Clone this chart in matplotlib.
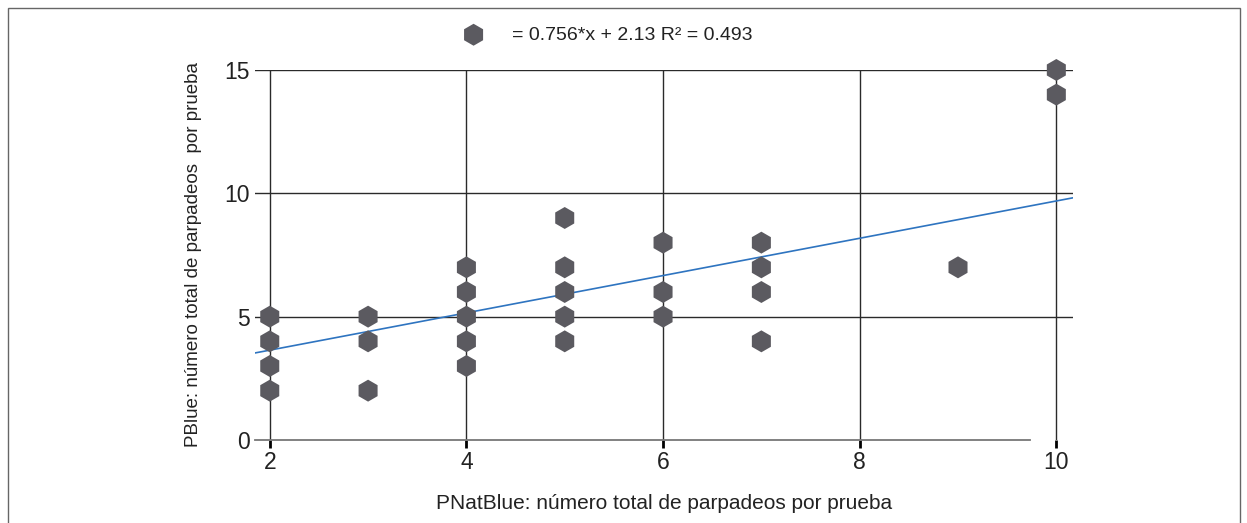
import matplotlib.pyplot as plt
import matplotlib.patches as mpatches
import numpy as np

# PNatBlue (x) vs PBlue (y), blinks per test
x_vals = [2, 2, 2, 2, 3, 3, 3, 4, 4, 4, 4, 4, 5, 5, 5, 5, 5,
          6, 6, 6, 7, 7, 7, 7, 9, 10, 10]
y_vals = [5, 4, 3, 2, 5, 4, 2, 7, 6, 5, 4, 3, 9, 7, 6, 5, 4,
          8, 6, 5, 8, 7, 6, 4, 7, 15, 14]

# fitted line from the legend
slope = 0.756
intercept = 2.13
r2 = 0.493

x_ticks = [2, 4, 6, 8, 10]
y_ticks = [0, 5, 10, 15]

plt.rcParams.update({
    "font.family": ["Liberation Sans", "DejaVu Sans"],
    "font.size": 14,
})

fig = plt.figure(figsize=(12.47, 5.23), dpi=100)
ax = fig.add_axes([0.2045, 0.1587, 0.656, 0.7075])

xlim = (1.85, 10.17)
ax.set_xlim(*xlim)
ax.set_ylim(0, 15)

# grid
ax.set_xticks(x_ticks)
ax.set_yticks(y_ticks)
ax.grid(True, color='#2a2a2a', linewidth=1.0, zorder=1)
ax.yaxis.get_gridlines()[0].set_visible(False)
ax.set_axisbelow(True)

# spines
for s in ['top', 'right', 'left']:
    ax.spines[s].set_visible(False)
ax.spines['bottom'].set_color('#777777')
ax.spines['bottom'].set_linewidth(1.3)
ax.spines['bottom'].set_bounds(xlim[0], 9.73)

ax.tick_params(axis='x', length=6, width=2, color='black', direction='out',
               labelsize=16.5, pad=2, labelcolor='#222222')
ax.tick_params(axis='y', length=0, labelsize=16.5, pad=4, labelcolor='#222222')

# regression line
xl = np.array(xlim)
ax.plot(xl, slope * xl + intercept, color='#2e74c0', linewidth=1.2, zorder=2)

# points
ax.scatter(x_vals, y_vals, marker='h', s=250, color='#5b5a60',
           edgecolors='none', zorder=3, clip_on=False,
           label=f"= {slope}*x + {intercept} R\u00b2 = {r2}")

ax.set_xlabel("PNatBlue: número total de parpadeos por prueba",
              fontsize=15, labelpad=14, color='#222222')
ax.set_ylabel("PBlue: número total de parpadeos  por prueba",
              fontsize=13.5, labelpad=16, color='#222222')

leg = fig.legend(loc='center', bbox_to_anchor=(0.484, 0.933), frameon=False,
                 fontsize=14, handletextpad=1.0, markerscale=1.0)
for t in leg.get_texts():
    t.set_color('#222222')

# outer frame
fig.patches.append(mpatches.Rectangle((8 / 1247, -0.02), 1232 / 1247, 1 - 8 / 523 + 0.02,
                                      transform=fig.transFigure, fill=False,
                                      edgecolor='#666666', linewidth=1.0))

fig.savefig("out.png", dpi=100)
